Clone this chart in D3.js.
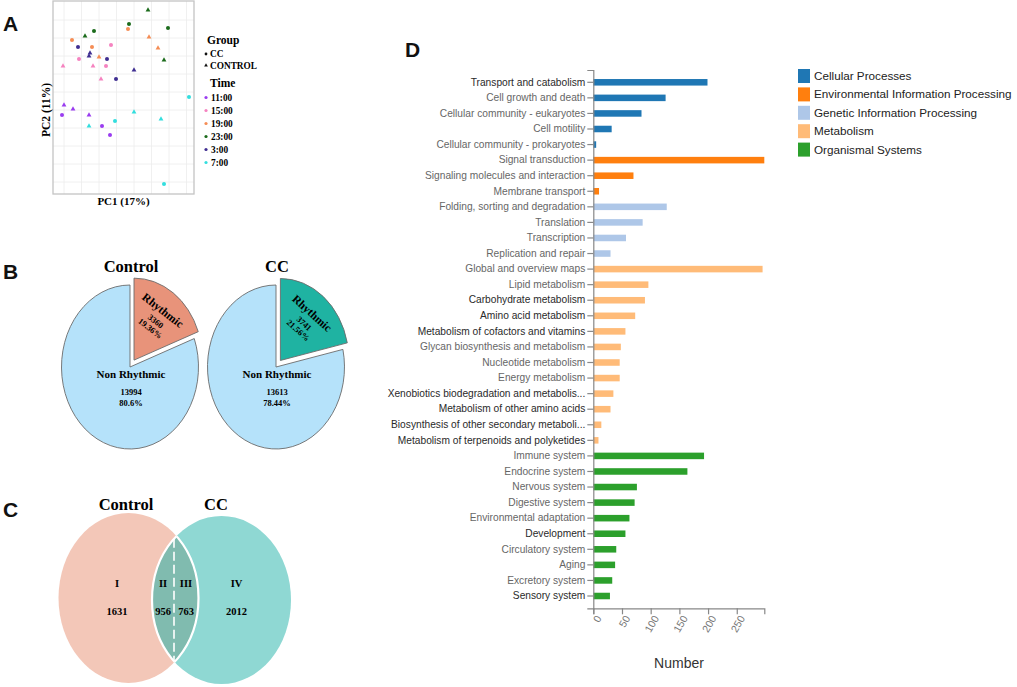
<!DOCTYPE html>
<html><head><meta charset="utf-8">
<script src="https://cdn.jsdelivr.net/npm/d3@7"></script>
<style>body{margin:0;background:#fff} svg{display:block}</style>
</head><body><svg id="c" width="1017" height="687"></svg>
<script>
// ---------- Panel A data (PCA) ----------
const timeLevels = ["11:00","15:00","19:00","23:00","3:00","7:00"];
const timeColors = ["#9a3cf0","#f583c0","#f58d55","#1b6b1b","#3f2e91","#33dede"];
const groupLevels = ["CC","CONTROL"];
const pcaTime  = ["23:00","23:00","23:00","23:00","23:00","23:00",
                  "19:00","19:00","19:00","19:00","19:00","19:00",
                  "3:00","3:00","3:00","3:00","3:00","3:00",
                  "15:00","15:00","15:00","15:00","15:00","15:00",
                  "11:00","11:00","11:00","11:00","11:00","11:00",
                  "7:00","7:00","7:00","7:00","7:00","7:00"];
const pcaGroup = ["CONTROL","CC","CC","CC","CONTROL","CONTROL",
                  "CC","CC","CONTROL","CC","CONTROL","CONTROL",
                  "CC","CONTROL","CONTROL","CC","CONTROL","CC",
                  "CC","CC","CONTROL","CONTROL","CC","CONTROL",
                  "CONTROL","CONTROL","CC","CONTROL","CC","CC",
                  "CC","CONTROL","CC","CONTROL","CONTROL","CC"];
const pc1 = [14,4.5,24,-13,-17.5,22,
             4,-24,14.5,-14,19,-10.5,
             -21,-15,-15.5,-6.5,7,-2,
             -4.5,-20.5,-28.5,-13.5,-7,-9.5,
             -28,-23.5,-29,-15.5,-9,-5,
             34.5,7,-2.5,20.5,-15.5,22];
const pc2 = [45,38,36,34.5,32,20,
             35.5,30,31.5,26.5,26,21.5,
             26.5,23.5,22,20.5,15,10.5,
             27.5,20.5,17,17,17,10.5,
             -2.5,-4.5,-7.5,-7.5,-13,-17.5,
             1.5,-6,-10.5,-9.5,-13,-42];

// ---------- Panel B data (pies) ----------
const pieGroups = ["Control","CC"];
const rhythmicCounts = [3360, 3741];
const nonRhythmicCounts = [13994, 13613];
const rhythmicPct = ["19.36%","21.56%"];
const nonRhythmicPct = ["80.6%","78.44%"];
const rhythmicColors = ["#e8937a","#1fb3a2"];

// ---------- Panel C data (Venn) ----------
const vennSets = ["Control","CC"];
const vennRegions = ["I","II","III","IV"];
const vennValues = [1631, 956, 763, 2012];

// ---------- Panel D data (KEGG) ----------
const keggCategories = ["Transport and catabolism","Cell growth and death","Cellular community - eukaryotes","Cell motility","Cellular community - prokaryotes",
  "Signal transduction","Signaling molecules and interaction","Membrane transport",
  "Folding, sorting and degradation","Translation","Transcription","Replication and repair",
  "Global and overview maps","Lipid metabolism","Carbohydrate metabolism","Amino acid metabolism","Metabolism of cofactors and vitamins","Glycan biosynthesis and metabolism","Nucleotide metabolism","Energy metabolism","Xenobiotics biodegradation and metabolis...","Metabolism of other amino acids","Biosynthesis of other secondary metaboli...","Metabolism of terpenoids and polyketides",
  "Immune system","Endocrine system","Nervous system","Digestive system","Environmental adaptation","Development","Circulatory system","Aging","Excretory system","Sensory system"];
const keggValues = [199,126,84,32,5, 298,70,10, 128,86,57,30, 295,96,90,73,56,48,46,46,35,30,14,9, 193,164,76,72,63,56,40,38,33,29];
const keggClass = ["Cellular Processes","Cellular Processes","Cellular Processes","Cellular Processes","Cellular Processes",
  "Environmental Information Processing","Environmental Information Processing","Environmental Information Processing",
  "Genetic Information Processing","Genetic Information Processing","Genetic Information Processing","Genetic Information Processing",
  "Metabolism","Metabolism","Metabolism","Metabolism","Metabolism","Metabolism","Metabolism","Metabolism","Metabolism","Metabolism","Metabolism","Metabolism",
  "Organismal Systems","Organismal Systems","Organismal Systems","Organismal Systems","Organismal Systems","Organismal Systems","Organismal Systems","Organismal Systems","Organismal Systems","Organismal Systems"];
const classLevels = ["Cellular Processes","Environmental Information Processing","Genetic Information Processing","Metabolism","Organismal Systems"];
const classColors = ["#1f77b4","#ff7f0e","#aec7e8","#ffbb78","#2ca02c"];
const darkLabels = ["Transport and catabolism","Carbohydrate metabolism","Amino acid metabolism","Metabolism of cofactors and vitamins","Xenobiotics biodegradation and metabolis...","Metabolism of other amino acids","Biosynthesis of other secondary metaboli...","Metabolism of terpenoids and polyketides","Development","Sensory system"];
const xTicks = [0,50,100,150,200,250];

const svg = d3.select("#c");
const SERIF = "'Liberation Serif','Times New Roman',serif";
const SANS = "'Liberation Sans',Arial,sans-serif";

// Panel letters
[["A",3,31],["B",3,279],["C",3,517],["D",405,57]].forEach(([t,x,y])=>{
  svg.append("text").attr("x",x).attr("y",y).text(t)
    .attr("font-family",SANS).attr("font-weight","bold").attr("font-size",21).attr("fill","#111");
});

// ===== Panel A =====
{
  const x = d3.scaleLinear().domain([-33.5,37]).range([53,194]);
  const y = d3.scaleLinear().domain([-47,49.5]).range([194,1]);
  const tc = d3.scaleOrdinal().domain(timeLevels).range(timeColors);
  const g = svg.append("g");
  g.selectAll(".gx").data(d3.range(0,8).map(k=>-28+8.75*k)).join("line")
    .attr("x1",d=>x(d)).attr("x2",d=>x(d)).attr("y1",y(49.5)).attr("y2",y(-47))
    .attr("stroke","#ececec").attr("stroke-width",0.8);
  g.selectAll(".gy").data(d3.range(0,10).map(k=>40-9*k)).join("line")
    .attr("y1",d=>y(d)).attr("y2",d=>y(d)).attr("x1",x(-33.5)).attr("x2",x(37))
    .attr("stroke","#ececec").attr("stroke-width",0.8);
  g.append("rect").attr("x",x(-33.5)).attr("y",y(49.5)).attr("width",x(37)-x(-33.5)).attr("height",y(-47)-y(49.5))
    .attr("fill","none").attr("stroke","#c4c4c4").attr("stroke-width",1.3);
  const sym = d3.scaleOrdinal().domain(groupLevels).range([d3.symbolCircle,d3.symbolTriangle]);
  g.selectAll(".pt").data(pc1.map((v,i)=>i)).join("path")
    .attr("transform",i=>`translate(${x(pc1[i])},${y(pc2[i])})`)
    .attr("d",i=>d3.symbol().type(sym(pcaGroup[i])).size(pcaGroup[i]==="CC"?13:10)())
    .attr("fill",i=>tc(pcaTime[i]));
  g.append("text").attr("x",(x(-33.5)+x(37))/2).attr("y",205).attr("text-anchor","middle")
    .attr("font-family",SERIF).attr("font-weight","bold").attr("font-size",11).text("PC1 (17%)");
  g.append("text").attr("transform",`translate(50,110) rotate(-90)`).attr("text-anchor","middle")
    .attr("font-family",SERIF).attr("font-weight","bold").attr("font-size",11.5).text("PC2 (11%)");
  // legend
  g.append("text").attr("x",207).attr("y",44).text("Group").attr("font-family",SERIF).attr("font-weight","bold").attr("font-size",11.5);
  groupLevels.forEach((gl,i)=>{
    const yy = 54+i*11.5;
    g.append("path").attr("transform",`translate(206,${yy})`).attr("d",d3.symbol().type(sym(gl)).size(6)()).attr("fill","#111");
    g.append("text").attr("x",210).attr("y",yy+3.3).text(gl).attr("font-family",SERIF).attr("font-weight","bold").attr("font-size",9.3);
  });
  g.append("text").attr("x",210).attr("y",86.5).text("Time").attr("font-family",SERIF).attr("font-weight","bold").attr("font-size",11.5);
  timeLevels.forEach((t,i)=>{
    const yy = 97.5+i*13;
    g.append("circle").attr("cx",206).attr("cy",yy).attr("r",1.6).attr("fill",timeColors[i]);
    g.append("text").attr("x",211).attr("y",yy+3.3).text(t).attr("font-family",SERIF).attr("font-weight","bold").attr("font-size",9.3);
  });
}

// ===== Panel B =====
{
  const centers = [[130,367],[276,367]];
  const r = 68.5, sy = 1.197, explode = 7;
  const pie = d3.pie().sort(null);
  pieGroups.forEach((name,i)=>{
    const [cx,cy] = centers[i];
    const arcs = pie([rhythmicCounts[i], nonRhythmicCounts[i]]);
    const arc = d3.arc().innerRadius(0).outerRadius(r);
    const g = svg.append("g").attr("transform",`translate(${cx},${cy}) scale(1,${sy})`);
    g.append("path").attr("d",arc(arcs[1])).attr("fill","#b5e2fa").attr("stroke","#6b6b6b").attr("stroke-width",0.9).attr("vector-effect","non-scaling-stroke");
    const mid = (arcs[0].startAngle+arcs[0].endAngle)/2;
    g.append("path").attr("transform",`translate(${Math.sin(mid)*explode},${-Math.cos(mid)*explode})`)
      .attr("d",arc(arcs[0])).attr("fill",rhythmicColors[i]).attr("stroke","#6b6b6b").attr("stroke-width",0.9).attr("vector-effect","non-scaling-stroke");
    svg.append("text").attr("x",cx+1).attr("y",272).attr("text-anchor","middle").text(name)
      .attr("font-family",SERIF).attr("font-weight","bold").attr("font-size",16.5);
    const lr = 0.74*r;
    const lx = cx + Math.sin(mid)*(lr+explode);
    const ly = cy - Math.cos(mid)*(lr+explode)*sy;
    const rot = Math.atan(Math.tan(mid)*sy)*180/Math.PI - 2;
    const tg = svg.append("g").attr("transform",`translate(${lx},${ly}) rotate(${rot})`)
      .attr("font-family",SERIF).attr("font-weight","bold").attr("text-anchor","middle");
    tg.append("text").attr("y",4).attr("font-size",11.5).text("Rhythmic");
    tg.append("text").attr("x",1).attr("y",16).attr("font-size",8.5).text(rhythmicCounts[i]);
    tg.append("text").attr("x",1).attr("y",25).attr("font-size",8.5).text(rhythmicPct[i]);
    const ng = svg.append("g").attr("font-family",SERIF).attr("font-weight","bold").attr("text-anchor","middle");
    ng.append("text").attr("x",cx+1).attr("y",378).attr("font-size",11).text("Non Rhythmic");
    ng.append("text").attr("x",cx+1).attr("y",394.5).attr("font-size",8.5).text(nonRhythmicCounts[i]);
    ng.append("text").attr("x",cx+1).attr("y",406).attr("font-size",8.5).text(nonRhythmicPct[i]);
  });
}

// ===== Panel C =====
{
  const E = [{cx:128.5,cy:598,rx:70,ry:85},{cx:221.5,cy:600,rx:69.5,ry:84}];
  const defs = svg.append("defs");
  defs.append("clipPath").attr("id","clipR").append("ellipse").attr("cx",E[1].cx).attr("cy",E[1].cy).attr("rx",E[1].rx).attr("ry",E[1].ry);
  defs.append("clipPath").attr("id","clipL").append("ellipse").attr("cx",E[0].cx).attr("cy",E[0].cy).attr("rx",E[0].rx).attr("ry",E[0].ry);
  const g = svg.append("g");
  g.append("ellipse").attr("cx",E[0].cx).attr("cy",E[0].cy).attr("rx",E[0].rx).attr("ry",E[0].ry).attr("fill","#f3c7b8");
  g.append("ellipse").attr("cx",E[1].cx).attr("cy",E[1].cy).attr("rx",E[1].rx).attr("ry",E[1].ry).attr("fill","#8fd8d3");
  g.append("ellipse").attr("clip-path","url(#clipR)").attr("cx",E[0].cx).attr("cy",E[0].cy).attr("rx",E[0].rx).attr("ry",E[0].ry)
    .attr("fill","#80bbaf").attr("stroke","#fff").attr("stroke-width",2.2);
  g.append("ellipse").attr("clip-path","url(#clipL)").attr("cx",E[1].cx).attr("cy",E[1].cy).attr("rx",E[1].rx).attr("ry",E[1].ry)
    .attr("fill","none").attr("stroke","#fff").attr("stroke-width",2.2);
  const xm = 174;
  const h0 = E[0].ry*Math.sqrt(Math.max(0,1-Math.pow((xm-E[0].cx)/E[0].rx,2)));
  const h1 = E[1].ry*Math.sqrt(Math.max(0,1-Math.pow((xm-E[1].cx)/E[1].rx,2)));
  const top = Math.max(E[0].cy-h0,E[1].cy-h1), bot = Math.min(E[0].cy+h0,E[1].cy+h1);
  g.append("line").attr("x1",xm).attr("x2",xm).attr("y1",top).attr("y2",bot)
    .attr("stroke","#fff").attr("stroke-width",1.6).attr("stroke-dasharray","9,4");
  [[126,vennSets[0]],[216,vennSets[1]]].forEach(([x,t])=>{
    g.append("text").attr("x",x).attr("y",510).attr("text-anchor","middle").text(t)
      .attr("font-family",SERIF).attr("font-weight","bold").attr("font-size",16.5);
  });
  const rx = [117,163,186,236.5];
  vennRegions.forEach((t,i)=>{
    g.append("text").attr("x",rx[i]).attr("y",587).attr("text-anchor","middle").text(t)
      .attr("font-family",SERIF).attr("font-weight","bold").attr("font-size",10.5);
    g.append("text").attr("x",rx[i]).attr("y",615).attr("text-anchor","middle").text(vennValues[i])
      .attr("font-family",SERIF).attr("font-weight","bold").attr("font-size",10.5);
  });
}

// ===== Panel D =====
{
  const y = d3.scaleBand().domain(keggCategories).range([70,608.3]).paddingInner(0.58).paddingOuter(0.58);
  const x = d3.scaleLinear().domain([0,298]).range([593.3,764.3]);
  const cc = d3.scaleOrdinal().domain(classLevels).range(classColors);
  const g = svg.append("g");
  g.selectAll(".bar").data(keggCategories.map((c,i)=>i)).join("rect")
    .attr("x",x(0)).attr("y",i=>y(keggCategories[i])).attr("height",y.bandwidth())
    .attr("width",i=>x(keggValues[i])-x(0)).attr("fill",i=>cc(keggClass[i]));
  const ya = g.append("g").attr("transform",`translate(${x(0)},0)`)
    .call(d3.axisLeft(y).tickSize(6).tickSizeOuter(6).tickPadding(2));
  ya.selectAll("path,line").attr("stroke","#888").attr("stroke-width",1.2);
  ya.selectAll("text").attr("font-family",SANS).attr("font-size",10.2)
    .attr("fill",d=>darkLabels.includes(d)?"#2a2a2a":"#666");
  const xa = g.append("g").attr("transform",`translate(0,608.3)`)
    .call(d3.axisBottom(x).tickValues(xTicks).tickSize(6).tickSizeOuter(6));
  xa.selectAll("path,line").attr("stroke","#888").attr("stroke-width",1.2);
  xa.selectAll("text").attr("font-family",SANS).attr("font-size",10.5).attr("fill","#777")
    .attr("text-anchor","end").attr("transform","translate(5,8) rotate(-60)").attr("dy","0.35em").attr("y",0).attr("x",0);
  g.append("text").attr("x",679).attr("y",668).attr("text-anchor","middle").text("Number")
    .attr("font-family",SANS).attr("font-size",14).attr("fill","#333");
  classLevels.forEach((c,i)=>{
    const yy = 69+i*18.4;
    g.append("rect").attr("x",798).attr("y",yy).attr("width",12).attr("height",14).attr("fill",classColors[i]);
    g.append("text").attr("x",814).attr("y",yy+11).text(c).attr("font-family",SANS).attr("font-size",11.7).attr("fill","#222");
  });
}
</script></body></html>
